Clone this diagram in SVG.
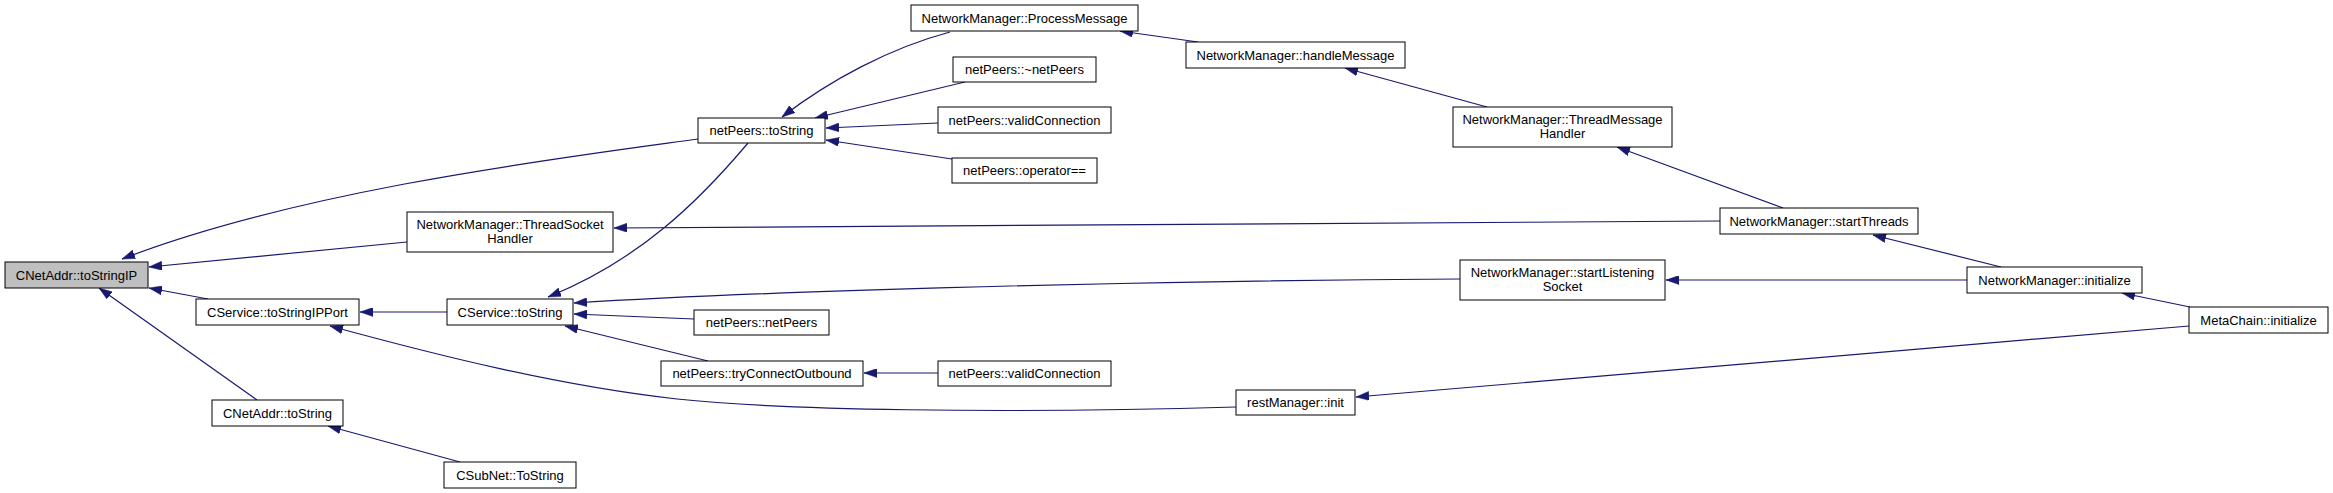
<svg xmlns="http://www.w3.org/2000/svg" width="2333" height="493" viewBox="0 0 2333 493">
<style>
.n rect{fill:#fff;stroke:#000;stroke-width:1}
.n.root rect{fill:#bfbfbf}
.n text{font-family:"Liberation Sans",Arial,sans-serif;font-size:13px;text-anchor:middle;fill:#000}
.e path{fill:none;stroke:#191970;stroke-width:1.2;marker-end:url(#ah)}
</style>
<defs>
<marker id="ah" viewBox="0 0 13 9" refX="13" refY="4.5" markerWidth="13" markerHeight="9" markerUnits="userSpaceOnUse" orient="auto">
<path d="M0,0 L13,4.5 L0,9 z" fill="#191970" stroke="#191970" stroke-width="0.5"/>
</marker>
</defs>
<rect width="2333" height="493" fill="#fff"/>
<g id="edges" class="e">
<path d="M698,139 C560,158 300,190 122,259"/>
<path d="M407,242 L149,267"/>
<path d="M208,299 L149,288"/>
<path d="M257,400 L99,288"/>
<path d="M447,312 L360,312"/>
<path d="M1236,407 C1000,414 780,410 677,399 C560,386 440,356 330,326"/>
<path d="M748,143 C700,200 640,260 548,297"/>
<path d="M950,32 C890,48 830,80 782,117"/>
<path d="M965,82 L815,118"/>
<path d="M938,123 L826,128"/>
<path d="M952,159 L826,140"/>
<path d="M1198,42 L1120,31"/>
<path d="M1487,107 L1345,68"/>
<path d="M1783,208 L1617,147"/>
<path d="M1720,221 C1200,221 800,224 614,228"/>
<path d="M1460,279 C1100,281 750,292 574,303"/>
<path d="M694,319 L574,314"/>
<path d="M708,361 L565,326"/>
<path d="M938,373 L864,373"/>
<path d="M2001,267 L1873,235"/>
<path d="M1967,280 L1666,280"/>
<path d="M2190,307 L2122,293"/>
<path d="M2189,326 L1356,397"/>
<path d="M460,462 L328,426"/>
</g>
<g id="n0" class="n root"><rect x="5" y="262" width="143" height="26"/><text x="76.5" y="279.5">CNetAddr::toStringIP</text></g>
<g id="n1" class="n"><rect x="698" y="118" width="127" height="25"/><text x="761.5" y="135">netPeers::toString</text></g>
<g id="n2" class="n"><rect x="407" y="212" width="206" height="40"/><text x="510" y="229">NetworkManager::ThreadSocket</text><text x="510" y="243">Handler</text></g>
<g id="n3" class="n"><rect x="196" y="299" width="163" height="26"/><text x="277.5" y="316.5">CService::toStringIPPort</text></g>
<g id="n4" class="n"><rect x="212" y="400" width="131" height="26"/><text x="277.5" y="417.5">CNetAddr::toString</text></g>
<g id="n5" class="n"><rect x="447" y="299" width="126" height="26"/><text x="510" y="316.5">CService::toString</text></g>
<g id="n6" class="n"><rect x="444" y="462" width="132" height="26"/><text x="510" y="479.5">CSubNet::ToString</text></g>
<g id="n7" class="n"><rect x="911" y="5" width="227" height="26"/><text x="1024.5" y="22.5">NetworkManager::ProcessMessage</text></g>
<g id="n8" class="n"><rect x="953" y="57" width="143" height="25"/><text x="1024.5" y="74">netPeers::~netPeers</text></g>
<g id="n9" class="n"><rect x="938" y="107" width="173" height="26"/><text x="1024.5" y="124.5">netPeers::validConnection</text></g>
<g id="n10" class="n"><rect x="952" y="158" width="145" height="25"/><text x="1024.5" y="175">netPeers::operator==</text></g>
<g id="n11" class="n"><rect x="694" y="310" width="135" height="25"/><text x="761.5" y="327">netPeers::netPeers</text></g>
<g id="n12" class="n"><rect x="661" y="361" width="202" height="25"/><text x="762" y="378">netPeers::tryConnectOutbound</text></g>
<g id="n13" class="n"><rect x="1186" y="42" width="219" height="26"/><text x="1295.5" y="59.5">NetworkManager::handleMessage</text></g>
<g id="n14" class="n"><rect x="938" y="361" width="173" height="25"/><text x="1024.5" y="378">netPeers::validConnection</text></g>
<g id="n15" class="n"><rect x="1236" y="390" width="119" height="25"/><text x="1295.5" y="407">restManager::init</text></g>
<g id="n16" class="n"><rect x="1453" y="107" width="219" height="40"/><text x="1562.5" y="124">NetworkManager::ThreadMessage</text><text x="1562.5" y="138">Handler</text></g>
<g id="n17" class="n"><rect x="1460" y="260" width="205" height="40"/><text x="1562.5" y="277">NetworkManager::startListening</text><text x="1562.5" y="291">Socket</text></g>
<g id="n18" class="n"><rect x="1720" y="208" width="198" height="26"/><text x="1819" y="225.5">NetworkManager::startThreads</text></g>
<g id="n19" class="n"><rect x="1967" y="267" width="175" height="26"/><text x="2054.5" y="284.5">NetworkManager::initialize</text></g>
<g id="n20" class="n"><rect x="2189" y="307" width="139" height="26"/><text x="2258.5" y="324.5">MetaChain::initialize</text></g>
</svg>
